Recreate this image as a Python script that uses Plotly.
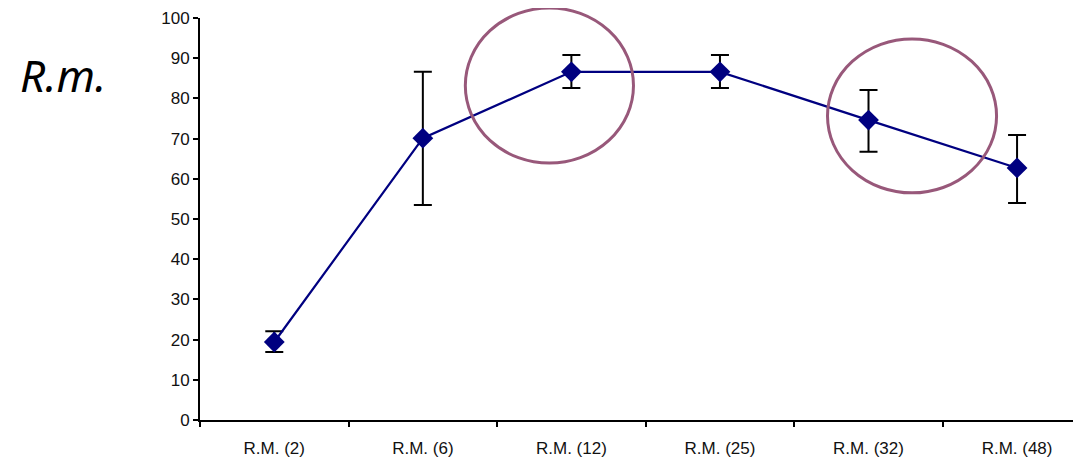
import plotly.graph_objects as go

categories = ["R.M. (2)", "R.M. (6)", "R.M. (12)", "R.M. (25)", "R.M. (32)", "R.M. (48)"]
means = [19.4, 70.1, 86.6, 86.6, 74.6, 62.7]
err_plus = [2.7, 16.5, 4.2, 4.2, 7.5, 8.2]
err_minus = [2.5, 16.6, 4.0, 4.0, 7.9, 8.7]

navy = "#000080"
ring = "#98587a"

fig = go.Figure()
fig.add_trace(go.Scatter(
    x=categories, y=means,
    mode="lines+markers",
    line=dict(color=navy, width=2.2),
    marker=dict(symbol="diamond", size=16, color=navy),
    error_y=dict(type="data", symmetric=False, array=err_plus, arrayminus=err_minus,
                 color="black", thickness=2, width=9),
    cliponaxis=False,
    showlegend=False,
))

# highlight rings round R.M. (12) and R.M. (32)
for x0, x1, y0, y1 in [(1.286, 2.418, 0.639, 1.025), (3.724, 4.862, 0.565, 0.948)]:
    fig.add_shape(type="circle", xref="x", yref="paper", x0=x0, x1=x1, y0=y0, y1=y1,
                  line=dict(color=ring, width=3))

fig.add_annotation(text="<i>R.m.</i>", xref="paper", yref="paper", x=-0.208, y=0.858,
                   showarrow=False, font=dict(family="Noto Sans", size=44, color="black"),
                   xanchor="left", yanchor="middle")

# page body has an 8px margin, so the figure is 8px smaller each way
fig.update_layout(
    width=1073, height=454,
    margin=dict(l=192, r=6, t=10, b=42),
    plot_bgcolor="white", paper_bgcolor="white",
    font=dict(family="Liberation Sans", size=17, color="#111"),
)
fig.update_xaxes(range=[-0.5, 5.39], showline=True, linecolor="black", linewidth=2,
                 ticks="outside", tickson="boundaries", ticklen=5, tickwidth=2, tickcolor="black",
                 ticklabelstandoff=12, automargin=False,
                 showgrid=False, zeroline=False, tickfont=dict(size=17))
fig.update_yaxes(range=[0, 100], dtick=10, showline=True, linecolor="black", linewidth=2,
                 ticks="outside", ticklen=5, tickwidth=2, tickcolor="black",
                 automargin=False, ticklabeloverflow="allow",
                 showgrid=False, zeroline=False, tickfont=dict(size=17))

fig.write_html("out.html")
